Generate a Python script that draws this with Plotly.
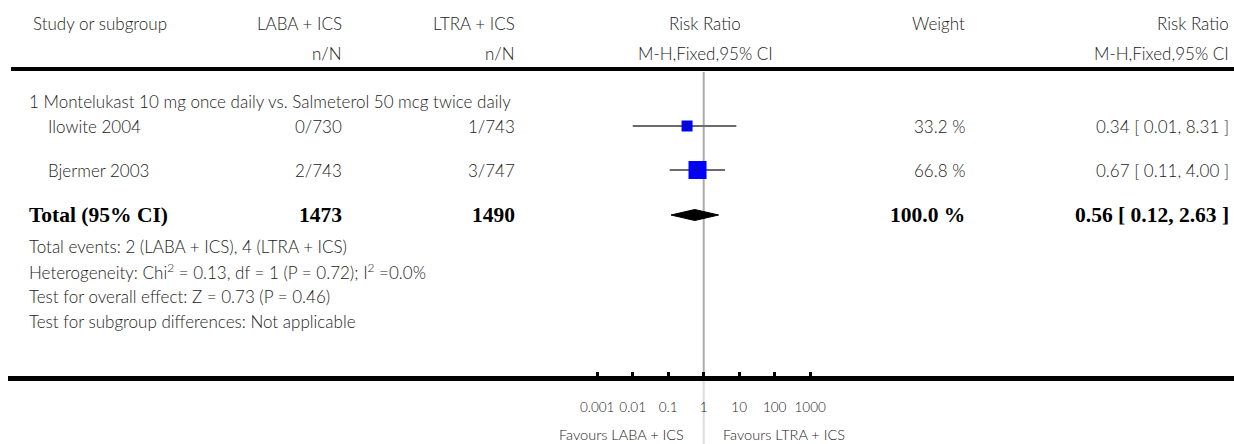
import plotly.graph_objects as go

# ---------------- data ----------------
studies = ["Ilowite 2004", "Bjermer 2003"]
laba_nN = ["0/730", "2/743"]
ltra_nN = ["1/743", "3/747"]
rr = [0.34, 0.67]
ci_lo = [0.01, 0.11]
ci_hi = [8.31, 4.00]
weights = [33.2, 66.8]
weight_txt = ["33.2 %", "66.8 %"]
rr_txt = ["0.34 [ 0.01, 8.31 ]", "0.67 [ 0.11, 4.00 ]"]

total_label = "Total (95% CI)"
total_laba = "1473"
total_ltra = "1490"
total_rr = 0.56
total_lo = 0.12
total_hi = 2.63
total_weight_txt = "100.0 %"
total_rr_txt = "0.56 [ 0.12, 2.63 ]"

subgroup_title = "1 Montelukast 10 mg once daily vs. Salmeterol 50 mcg twice daily"
footer_lines = [
    "Total events: 2 (LABA + ICS), 4 (LTRA + ICS)",
    "Heterogeneity: Chi<sup>2</sup> = 0.13, df = 1 (P = 0.72); I<sup>2</sup> =0.0%",
    "Test for overall effect: Z = 0.73 (P = 0.46)",
    "Test for subgroup differences: Not applicable",
]
tick_vals = [0.001, 0.01, 0.1, 1, 10, 100, 1000]
tick_text = ["0.001", "0.01", "0.1", "1", "10", "100", "1000"]
favours_left = "Favours LABA + ICS"
favours_right = "Favours LTRA + ICS"

# ---------------- layout constants ----------------
W, H = 1234, 444
PX_PER_DEC = 35.5
X_ONE = 703.7
xr = [(0 - X_ONE) / PX_PER_DEC, (W - X_ONE) / PX_PER_DEC]

FONT = "Lato"
TXT = "#222222"
FS = 17
row_y = {"h1": 23, "h2": 53, "sub": 101, "s0": 126, "s1": 170, "tot": 215,
         "f0": 246, "f1": 271, "f2": 296, "f3": 321, "axis": 378.5,
         "ticklab": 407, "fav": 434}
col = {"study": 31, "sub": 27, "name": 46, "laba": 344, "ltra": 517,
       "rr": 705, "weight": 967, "rrtxt": 1231}

def px(x):
    return x / W

fig = go.Figure()

# CI lines
for i in range(len(studies)):
    y = row_y["s%d" % i]
    fig.add_trace(go.Scatter(x=[ci_lo[i], ci_hi[i]], y=[y, y], mode="lines",
                             line=dict(color="#6b6b6b", width=2), hoverinfo="skip"))
# squares (size grows with weight)
sizes = [4 + 0.21 * w for w in weights]
fig.add_trace(go.Scatter(x=rr, y=[row_y["s0"], row_y["s1"]], mode="markers",
                         marker=dict(symbol="square", size=sizes, color="#0000ff",
                                     opacity=1, line=dict(width=0, color="#0000ff")),
                         hoverinfo="skip"))
fig.add_trace(go.Scatter(x=rr, y=[row_y["s0"], row_y["s1"]], mode="markers",
                         marker=dict(symbol="line-ns", size=5, color="black",
                                     line=dict(width=1, color="#222")), hoverinfo="skip"))
# diamond
ty = row_y["tot"]
fig.add_trace(go.Scatter(x=[total_lo, total_rr, total_hi, total_rr, total_lo],
                         y=[ty, ty - 5.5, ty, ty + 5.5, ty], mode="lines",
                         fill="toself", fillcolor="black",
                         line=dict(color="black", width=1), hoverinfo="skip"))

shapes = [
    dict(type="line", xref="paper", yref="y", x0=px(11), x1=1, y0=69, y1=69,
         line=dict(color="black", width=4)),
    dict(type="line", xref="paper", yref="y", x0=px(8), x1=1, y0=row_y["axis"], y1=row_y["axis"],
         line=dict(color="black", width=5)),
    dict(type="line", xref="x", yref="y", x0=1, x1=1, y0=72, y1=row_y["axis"],
         line=dict(color="#ababab", width=2), layer="below"),
    dict(type="line", xref="x", yref="y", x0=1, x1=1, y0=row_y["axis"], y1=H,
         line=dict(color="#dcdcdc", width=2), layer="below"),
]

ann = []
def T(text, x, y, anchor="left", size=FS, color=TXT, family=FONT, weight=300):
    ann.append(dict(text=text, xref="paper", yref="y", x=px(x), y=y,
                    xanchor=anchor, yanchor="middle", showarrow=False,
                    font=dict(size=size, color=color, family=family, weight=weight)))

# headers
T("Study or subgroup", col["study"], row_y["h1"])
T("LABA + ICS", col["laba"], row_y["h1"], "right")
T("LTRA + ICS", col["ltra"], row_y["h1"], "right")
T("Risk Ratio", col["rr"], row_y["h1"], "center")
T("Weight", col["weight"], row_y["h1"], "right")
T("Risk Ratio", col["rrtxt"], row_y["h1"], "right")
T("n/N", col["laba"], row_y["h2"], "right")
T("n/N", col["ltra"], row_y["h2"], "right")
T("M-H,Fixed,95% CI", col["rr"], row_y["h2"], "center")
T("M-H,Fixed,95% CI", col["rrtxt"], row_y["h2"], "right")

T(subgroup_title, col["sub"], row_y["sub"])
for i in range(len(studies)):
    y = row_y["s%d" % i]
    T(studies[i], col["name"], y)
    T(laba_nN[i], col["laba"], y, "right")
    T(ltra_nN[i], col["ltra"], y, "right")
    T(weight_txt[i], col["weight"], y, "right")
    T(rr_txt[i], col["rrtxt"], y, "right")

SER = "Liberation Serif"
for txt, c, a in [(total_label, "sub", "left"), (total_laba, "laba", "right"),
                  (total_ltra, "ltra", "right"), (total_weight_txt, "weight", "right"),
                  (total_rr_txt, "rrtxt", "right")]:
    T(txt, col[c], ty, a, size=21.5, color="black", family=SER, weight=700)

for k, line in enumerate(footer_lines):
    T(line, col["sub"], row_y["f%d" % k])

T(favours_left, 686, row_y["fav"], "right", size=14.5)
T(favours_right, 721, row_y["fav"], "left", size=14.5)

fig.update_layout(
    width=W, height=H, margin=dict(l=0, r=0, t=0, b=0),
    paper_bgcolor="white", plot_bgcolor="white", showlegend=False,
    shapes=shapes, annotations=ann,
    xaxis=dict(type="log", range=xr, domain=[0, 1], showgrid=False, zeroline=False,
               showline=False, ticks="inside", ticklen=7, tickwidth=3, tickcolor="black",
               tickvals=tick_vals, ticktext=tick_text,
               tickfont=dict(family=FONT, size=13.5, color=TXT, weight=300),
               anchor="free", position=1 - row_y["axis"] / H,
               ticklabelstandoff=19, fixedrange=True),
    yaxis=dict(range=[H, 0], domain=[0, 1], visible=False, fixedrange=True),
)
fig.write_html("out.html", config={"displayModeBar": False},
               post_script="document.body.style.margin='0';document.body.style.overflow='hidden';")
